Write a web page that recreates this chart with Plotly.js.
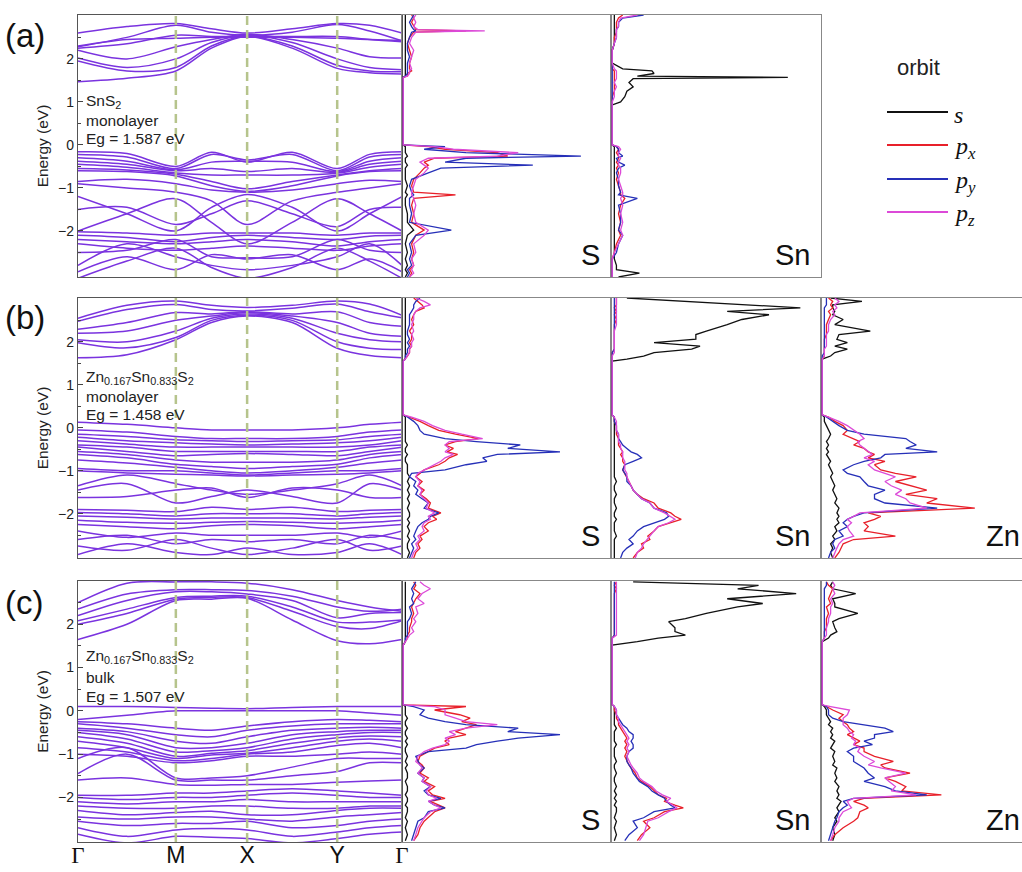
<!DOCTYPE html>
<html>
<head>
<meta charset="utf-8">
<script src="https://cdn.plot.ly/plotly-3.0.1.min.js"></script>
<style>html,body{margin:0;padding:0;background:#fff;}#chart{width:1022px;height:872px;}</style>
</head>
<body>
<div id="chart"></div>
<script>
// ---------------- DATA ----------------
const kLabels = ['Γ', 'M', 'X', 'Y', 'Γ'];
const kNodes = [0, 0.302, 0.522, 0.80, 1.0];
const kPath = [0, 0.151, 0.302, 0.412, 0.522, 0.661, 0.80, 0.90, 1.0];

const panelTags = ['(a)', '(b)', '(c)'];
const materialA = ['SnS<sub>2</sub>', 'monolayer', 'Eg = 1.587 eV'];
const materialB = ['Zn<sub>0.167</sub>Sn<sub>0.833</sub>S<sub>2</sub>', 'monolayer', 'Eg = 1.458 eV'];
const materialC = ['Zn<sub>0.167</sub>Sn<sub>0.833</sub>S<sub>2</sub>', 'bulk', 'Eg = 1.507 eV'];
const elementsA = ['S', 'Sn'];
const elementsBC = ['S', 'Sn', 'Zn'];
const orbitNames = ['<i>s</i>', '<i>p</i><sub><i>x</i></sub>', '<i>p</i><sub><i>y</i></sub>', '<i>p</i><sub><i>z</i></sub>'];
const legendTitle = 'orbit';
const energyTicks = [-2, -1, 0, 1, 2];

// band energies (eV) at kPath points
const bandsA_cb = [
 [1.47, 1.55, 1.72, 2.25, 2.52, 2.25, 1.78, 1.68, 1.65],
 [1.95, 1.72, 1.80, 2.30, 2.53, 2.30, 1.85, 1.72, 1.70],
 [2.02, 1.80, 2.00, 2.38, 2.55, 2.38, 2.00, 1.80, 1.75],
 [2.20, 2.00, 2.28, 2.45, 2.57, 2.45, 2.25, 2.05, 2.02],
 [2.25, 2.35, 2.55, 2.52, 2.52, 2.52, 2.52, 2.45, 2.40],
 [2.28, 2.50, 2.78, 2.62, 2.55, 2.62, 2.80, 2.65, 2.42],
 [2.60, 2.75, 2.82, 2.70, 2.60, 2.70, 2.82, 2.78, 2.60],
 [2.30, 2.45, 2.48, 2.50, 2.50, 2.50, 2.48, 2.45, 2.43]
];
const bandsA_vb = [
 [-0.16, -0.20, -0.50, -0.17, -0.40, -0.17, -0.55, -0.22, -0.16],
 [-0.22, -0.28, -0.55, -0.22, -0.35, -0.22, -0.60, -0.28, -0.22],
 [-0.30, -0.38, -0.58, -0.40, -0.38, -0.40, -0.62, -0.38, -0.30],
 [-0.38, -0.45, -0.60, -0.55, -0.62, -0.55, -0.64, -0.45, -0.38],
 [-0.45, -0.52, -0.65, -0.70, -0.70, -0.70, -0.66, -0.52, -0.45],
 [-0.55, -0.58, -0.68, -0.85, -1.02, -0.85, -0.70, -0.60, -0.55],
 [-0.60, -0.62, -0.72, -0.95, -1.08, -0.95, -0.72, -0.62, -0.60],
 [-0.85, -0.80, -0.90, -1.05, -1.10, -1.05, -0.90, -0.82, -0.85],
 [-0.90, -1.00, -1.10, -1.30, -1.85, -1.30, -1.10, -1.00, -0.90],
 [-1.20, -1.60, -2.00, -1.45, -1.15, -1.45, -2.00, -1.60, -1.20],
 [-1.50, -1.45, -1.85, -1.60, -1.30, -1.60, -1.90, -1.50, -1.45],
 [-2.00, -1.60, -1.25, -1.80, -2.30, -1.80, -1.25, -1.60, -2.00],
 [-2.02, -2.05, -2.10, -2.05, -2.05, -2.05, -2.10, -2.05, -2.05],
 [-2.10, -2.15, -2.25, -2.15, -2.10, -2.15, -2.20, -2.12, -2.10],
 [-2.20, -2.25, -2.30, -2.25, -2.20, -2.25, -2.35, -2.25, -2.20],
 [-2.30, -2.40, -2.45, -2.40, -2.35, -2.40, -2.45, -2.35, -2.30],
 [-2.50, -2.45, -2.20, -2.60, -2.62, -2.60, -2.20, -2.45, -2.50],
 [-2.80, -2.30, -2.60, -2.80, -2.90, -2.80, -2.60, -2.30, -2.80],
 [-2.95, -2.60, -2.90, -2.55, -2.65, -2.55, -2.90, -2.65, -2.95],
 [-3.10, -2.70, -2.40, -2.85, -3.10, -2.85, -2.40, -2.70, -3.10]
];
const bandsB_cb = [
 [1.63, 1.70, 2.05, 2.45, 2.60, 2.45, 1.85, 1.68, 1.63],
 [1.98, 1.86, 2.10, 2.50, 2.62, 2.50, 2.00, 1.85, 1.82],
 [2.05, 2.00, 2.25, 2.55, 2.65, 2.55, 2.20, 2.05, 2.00],
 [2.20, 2.25, 2.50, 2.60, 2.68, 2.60, 2.45, 2.20, 2.13],
 [2.29, 2.45, 2.68, 2.65, 2.70, 2.65, 2.70, 2.45, 2.36],
 [2.48, 2.75, 2.87, 2.75, 2.72, 2.78, 2.88, 2.70, 2.56],
 [2.55, 2.85, 2.95, 2.85, 2.80, 2.85, 2.95, 2.88, 2.62]
];
const bandsB_vb = [
 [0.13, 0.08, 0.00, -0.05, -0.05, -0.05, 0.00, 0.08, 0.13],
 [-0.05, -0.10, -0.20, -0.25, -0.25, -0.25, -0.20, -0.10, -0.05],
 [-0.15, -0.20, -0.28, -0.30, -0.32, -0.30, -0.28, -0.20, -0.15],
 [-0.22, -0.30, -0.35, -0.38, -0.40, -0.38, -0.35, -0.30, -0.22],
 [-0.30, -0.38, -0.45, -0.45, -0.45, -0.45, -0.45, -0.40, -0.30],
 [-0.40, -0.45, -0.55, -0.55, -0.55, -0.55, -0.55, -0.45, -0.40],
 [-0.45, -0.55, -0.65, -0.62, -0.60, -0.62, -0.65, -0.55, -0.45],
 [-0.55, -0.62, -0.75, -0.80, -0.80, -0.80, -0.75, -0.62, -0.55],
 [-0.62, -0.70, -0.85, -0.90, -0.95, -0.90, -0.85, -0.70, -0.62],
 [-0.75, -0.82, -0.92, -1.00, -1.05, -1.00, -0.92, -0.82, -0.75],
 [-0.95, -1.00, -1.00, -1.05, -1.10, -1.05, -1.00, -1.00, -0.95],
 [-1.00, -1.05, -1.08, -1.10, -1.12, -1.10, -1.08, -1.05, -1.00],
 [-1.35, -1.10, -1.30, -1.45, -1.55, -1.45, -1.30, -1.10, -1.35],
 [-1.62, -1.60, -1.45, -1.40, -1.62, -1.40, -1.45, -1.62, -1.62],
 [-1.45, -1.30, -1.75, -1.60, -1.45, -1.60, -1.75, -1.30, -1.45],
 [-1.90, -1.92, -1.95, -1.85, -1.90, -1.85, -1.95, -1.92, -1.90],
 [-1.97, -2.00, -2.05, -2.00, -2.00, -2.00, -2.05, -2.00, -1.97],
 [-2.05, -2.08, -2.12, -2.10, -2.10, -2.10, -2.12, -2.08, -2.05],
 [-2.15, -2.20, -2.22, -2.20, -2.18, -2.20, -2.22, -2.20, -2.15],
 [-2.25, -2.30, -2.35, -2.28, -2.25, -2.28, -2.35, -2.30, -2.25],
 [-2.40, -2.55, -2.45, -2.50, -2.50, -2.50, -2.45, -2.55, -2.40],
 [-2.60, -2.50, -2.70, -2.60, -2.65, -2.60, -2.70, -2.50, -2.60],
 [-2.75, -2.85, -2.60, -2.80, -2.95, -2.80, -2.60, -2.85, -2.75],
 [-2.95, -2.70, -2.90, -2.95, -2.80, -2.95, -2.90, -2.70, -2.95]
];
const bandsC_cb = [
 [1.65, 2.00, 2.55, 2.58, 2.60, 2.10, 1.62, 1.55, 1.65],
 [2.00, 2.25, 2.58, 2.62, 2.62, 2.30, 1.95, 1.90, 2.08],
 [2.08, 2.35, 2.62, 2.65, 2.65, 2.40, 2.05, 2.05, 2.10],
 [2.20, 2.55, 2.75, 2.75, 2.70, 2.55, 2.15, 2.25, 2.27],
 [2.35, 2.70, 2.80, 2.80, 2.78, 2.65, 2.40, 2.30, 2.35],
 [2.50, 2.95, 2.98, 2.98, 2.95, 2.80, 2.55, 2.40, 2.30]
];
const bandsC_vb = [
 [0.10, 0.10, 0.08, 0.06, 0.05, 0.08, 0.10, 0.10, 0.10],
 [-0.20, -0.10, 0.00, 0.00, 0.00, 0.00, 0.00, -0.05, -0.10],
 [-0.25, -0.30, -0.40, -0.45, -0.35, -0.25, -0.20, -0.22, -0.25],
 [-0.30, -0.40, -0.55, -0.60, -0.45, -0.35, -0.30, -0.30, -0.30],
 [-0.40, -0.48, -0.70, -0.75, -0.60, -0.45, -0.40, -0.38, -0.40],
 [-0.45, -0.55, -0.85, -0.85, -0.75, -0.55, -0.48, -0.45, -0.45],
 [-0.50, -0.65, -0.95, -0.92, -0.85, -0.65, -0.55, -0.50, -0.50],
 [-0.60, -0.75, -1.05, -0.98, -0.92, -0.75, -0.62, -0.58, -0.60],
 [-0.70, -0.85, -1.10, -1.02, -0.98, -0.85, -0.70, -0.65, -0.70],
 [-0.85, -0.95, -1.15, -1.10, -1.00, -0.95, -0.80, -0.75, -0.85],
 [-1.00, -1.05, -1.20, -1.15, -1.05, -1.05, -1.00, -0.95, -1.00],
 [-1.10, -0.85, -1.55, -1.55, -1.50, -1.30, -1.10, -1.10, -1.10],
 [-1.45, -1.00, -1.60, -1.60, -1.60, -1.50, -1.40, -1.20, -1.20],
 [-1.60, -1.55, -1.70, -1.72, -1.70, -1.70, -1.65, -1.62, -1.60],
 [-1.95, -1.95, -1.90, -1.90, -1.85, -1.80, -1.85, -1.90, -1.95],
 [-2.00, -2.05, -2.00, -2.00, -1.95, -1.90, -1.95, -2.00, -2.00],
 [-2.10, -2.15, -2.10, -2.10, -2.05, -2.10, -2.10, -2.10, -2.10],
 [-2.20, -2.25, -2.25, -2.20, -2.20, -2.25, -2.25, -2.20, -2.20],
 [-2.30, -2.40, -2.35, -2.32, -2.40, -2.40, -2.30, -2.25, -2.25],
 [-2.45, -2.50, -2.45, -2.45, -2.50, -2.55, -2.45, -2.40, -2.35],
 [-2.55, -2.65, -2.60, -2.60, -2.55, -2.70, -2.65, -2.55, -2.50],
 [-2.70, -2.90, -2.75, -2.72, -2.75, -2.90, -2.80, -2.70, -2.65],
 [-2.85, -3.05, -2.90, -2.92, -2.95, -3.05, -2.95, -2.85, -2.80]
];

// DOS energy grids (eV)
const energyA = [3.02, 2.95, 2.85, 2.75, 2.68, 2.65, 2.62, 2.5, 2.36, 2.2, 2.05, 1.9, 1.77, 1.72, 1.66, 1.6, 1.57, 1.54, 1.45, 1.35, 1.25, 1.12, 1.0, 0.93, 0.0,
 -0.04, -0.1, -0.18, -0.26, -0.31, -0.4, -0.47, -0.54, -0.65, -0.8, -0.95, -1.1, -1.16, -1.24, -1.4, -1.6, -1.8, -1.98, -2.1, -2.3, -2.5, -2.65, -2.8, -2.9, -2.98, -3.07];
const energyB = [3.02, 2.94, 2.86, 2.79, 2.71, 2.63, 2.52, 2.40, 2.25, 2.17, 2.06, 1.98, 1.9, 1.83, 1.75, 1.67, 1.6, 1.55, 0.3,
 0.25, 0.15, 0.05, -0.06, -0.15, -0.25, -0.32, -0.4, -0.48, -0.56, -0.62, -0.7, -0.78, -0.86, -0.98, -1.06, -1.14, -1.25, -1.35, -1.45, -1.55, -1.65, -1.75, -1.87, -1.98, -2.06, -2.13, -2.21, -2.3, -2.4, -2.52, -2.6, -2.7, -2.8, -2.9, -3.03];
const energyC = [2.98, 2.9, 2.82, 2.71, 2.59, 2.48, 2.4, 2.25, 2.13, 2.06, 1.92, 1.83, 1.75, 1.68, 1.6, 1.52, 0.14,
 0.1, 0.02, -0.09, -0.17, -0.25, -0.32, -0.4, -0.48, -0.55, -0.63, -0.7, -0.78, -0.86, -0.94, -1.05, -1.17, -1.25, -1.32, -1.44, -1.55, -1.63, -1.75, -1.85, -1.94, -2.02, -2.09, -2.18, -2.24, -2.33, -2.47, -2.55, -2.7, -2.86, -3.0];

// projected DOS (arbitrary units, 1 = panel width), order: s, px, py, pz
const dosA_S = [
 [0.01,0.01,0.01,0.01,0.01,0.01,0.01,0.01,0.01,0.01,0.01,0.01,0.01,0.01,0.01,0.01, 0,0,0,0,0,0,0,0,0,
  0.01,0.01,0.01,0.02,0.01,0.01,0.02,0.01,0.01,0.01,0.02,0.01,0.02,0.01,0.01,0.02,0.02,0.05,0.02,0.01,0.02,0.01,0.02,0.01,0.02,0.01],
 [0.04,0.05,0.04,0.05,0.06,0.3,0.05,0.03,0.02,0.03,0.04,0.03,0.03,0.04,0.02,0.02, 0,0,0,0,0,0,0,0,0,
  0.12,0.2,0.45,0.5,0.15,0.1,0.12,0.1,0.08,0.05,0.04,0.05,0.25,0.05,0.04,0.05,0.04,0.1,0.06,0.04,0.05,0.04,0.05,0.03,0.04,0.03],
 [0.05,0.04,0.03,0.04,0.05,0.06,0.04,0.03,0.02,0.02,0.03,0.02,0.02,0.02,0.02,0.01, 0,0,0,0,0,0,0,0,0,
  0.2,0.1,0.3,0.85,0.3,0.2,0.62,0.18,0.12,0.04,0.03,0.04,0.05,0.03,0.03,0.04,0.03,0.23,0.06,0.03,0.04,0.03,0.04,0.02,0.03,0.02],
 [0.06,0.05,0.06,0.05,0.07,0.39,0.06,0.04,0.03,0.05,0.04,0.03,0.04,0.03,0.03,0.02, 0,0,0,0,0,0,0,0,0,
  0.15,0.24,0.55,0.45,0.12,0.08,0.1,0.12,0.1,0.06,0.05,0.04,0.04,0.05,0.06,0.05,0.06,0.12,0.1,0.05,0.06,0.04,0.05,0.04,0.05,0.03]
];
const dosA_Sn = [
 [0.01,0.01,0.01,0.01,0.01,0.01,0.01,0.01,0.01, 0,0,0, 0.05,0.19,0.2,0.12,0.84,0.1,0.08,0.1,0.07,0.06,0.04, 0,0,
  0.01,0.01,0.01,0.01,0.01,0.01,0.01,0.01,0.01,0.01,0.01,0.01,0.01,0.01,0.01,0.01,0.01,0.01,0.01,0.01,0.01,0.01,0.02,0.02,0.13,0.03],
 [0.05,0.03,0.02,0.02,0.02,0.02,0.02,0.01,0.01, 0,0,0, 0,0.01,0.01,0.01,0.01,0.01,0.01,0.01,0.01,0,0, 0,0,
  0.02,0.03,0.02,0.03,0.03,0.02,0.03,0.02,0.03,0.02,0.03,0.04,0.04,0.06,0.04,0.03,0.04,0.03,0.04,0.02,0.01,0,0,0,0,0],
 [0.15,0.05,0.03,0.03,0.02,0.02,0.02,0.02,0.01, 0,0,0, 0,0,0,0,0,0,0,0,0,0,0, 0,0,
  0.02,0.03,0.03,0.05,0.02,0.03,0.06,0.03,0.02,0.03,0.03,0.04,0.03,0.12,0.03,0.04,0.04,0.03,0.05,0.03,0.02,0,0,0,0,0],
 [0.12,0.04,0.03,0.03,0.02,0.02,0.02,0.02,0.01, 0,0,0, 0.01,0.02,0.02,0.02,0.02,0.02,0.01,0.02,0.01,0.01,0, 0,0,
  0.03,0.04,0.03,0.03,0.04,0.03,0.03,0.04,0.04,0.03,0.04,0.05,0.05,0.04,0.05,0.04,0.05,0.04,0.05,0.03,0.01,0,0,0,0,0]
];
const dosB_S = [
 [0.01,0.01,0.01,0.01,0.01,0.01,0.01,0.01,0.01,0.01,0.01,0.01,0.01,0.01,0.01,0.01,0.01, 0,0,
  0.01,0.01,0.01,0.01,0.01,0.01,0.01,0.02,0.01,0.01,0.02,0.01,0.01,0.02,0.02,0.02,0.03,0.02,0.03,0.02,0.03,0.02,0.03,0.02,0.03,0.03,0.02,0.03,0.02,0.03,0.02,0.03,0.02,0.02,0.03,0.02],
 [0.05,0.07,0.09,0.1,0.06,0.05,0.04,0.05,0.03,0.04,0.04,0.03,0.04,0.03,0.03,0.02,0.01, 0,0,
  0.03,0.08,0.12,0.17,0.25,0.36,0.25,0.2,0.24,0.21,0.26,0.22,0.2,0.17,0.1,0.08,0.06,0.09,0.07,0.1,0.08,0.11,0.13,0.12,0.18,0.14,0.16,0.12,0.1,0.12,0.08,0.09,0.07,0.08,0.06,0.05],
 [0.08,0.06,0.05,0.05,0.04,0.03,0.03,0.03,0.02,0.02,0.03,0.02,0.03,0.02,0.02,0.01,0.01, 0,0,
  0.02,0.05,0.07,0.08,0.1,0.2,0.35,0.56,0.5,0.75,0.45,0.38,0.4,0.3,0.2,0.04,0.03,0.06,0.05,0.07,0.06,0.09,0.12,0.1,0.17,0.13,0.12,0.09,0.07,0.06,0.05,0.06,0.04,0.05,0.04,0.03],
 [0.06,0.1,0.13,0.08,0.06,0.05,0.05,0.04,0.05,0.04,0.05,0.04,0.04,0.03,0.03,0.02,0.01, 0,0,
  0.04,0.1,0.14,0.2,0.28,0.38,0.22,0.2,0.22,0.2,0.24,0.2,0.18,0.15,0.1,0.07,0.06,0.08,0.07,0.09,0.08,0.1,0.12,0.11,0.15,0.12,0.13,0.1,0.09,0.1,0.07,0.08,0.06,0.07,0.05,0.04]
];
const dosB_Sn = [
 [0.07,0.35,0.6,0.9,0.55,0.75,0.62,0.55,0.45,0.4,0.4,0.2,0.42,0.38,0.2,0.15,0.07, 0,0,
  0.01,0.01,0.01,0.01,0.01,0.01,0.01,0.01,0.01,0.01,0.01,0.01,0.01,0.01,0.01,0.01,0.01,0.02,0.01,0.01,0.02,0.01,0.01,0.02,0.01,0.01,0.02,0.01,0.01,0.01,0.02,0.01,0.01,0.01,0.01,0.01],
 [0.02,0.02,0.02,0.01,0.02,0.01,0.02,0.01,0.01,0.01,0.01,0.01,0.01,0.01,0,0,0, 0,0,
  0.01,0.01,0.02,0.02,0.02,0.03,0.03,0.03,0.04,0.05,0.04,0.05,0.05,0.06,0.05,0.06,0.07,0.08,0.09,0.1,0.12,0.15,0.2,0.22,0.28,0.3,0.33,0.28,0.22,0.2,0.17,0.18,0.14,0.15,0.12,0.1],
 [0.01,0.01,0.01,0.01,0.01,0.01,0.01,0.01,0.01,0.01,0.01,0.01,0.01,0.01,0,0,0, 0,0,
  0.01,0.01,0.02,0.02,0.03,0.03,0.04,0.05,0.07,0.09,0.12,0.14,0.1,0.06,0.05,0.06,0.07,0.07,0.09,0.1,0.12,0.14,0.18,0.2,0.26,0.27,0.25,0.2,0.15,0.12,0.1,0.08,0.1,0.07,0.05,0.04],
 [0.02,0.02,0.02,0.02,0.02,0.02,0.02,0.02,0.01,0.01,0.01,0.01,0.01,0.01,0.01,0,0, 0,0,
  0.01,0.02,0.02,0.02,0.03,0.03,0.03,0.04,0.04,0.05,0.05,0.05,0.06,0.06,0.06,0.07,0.07,0.08,0.09,0.1,0.12,0.14,0.18,0.2,0.25,0.28,0.3,0.27,0.22,0.2,0.18,0.17,0.15,0.14,0.12,0.11]
];
const dosB_Zn = [
 [0.04,0.19,0.05,0.05,0.06,0.05,0.1,0.06,0.23,0.08,0.07,0.12,0.06,0.12,0.06,0.04,0, 0,0,
  0.01,0.01,0.02,0.03,0.04,0.03,0.02,0.03,0.02,0.03,0.02,0.03,0.04,0.03,0.04,0.05,0.04,0.05,0.06,0.05,0.06,0.07,0.06,0.08,0.07,0.08,0.07,0.08,0.06,0.07,0.05,0.06,0.04,0.05,0.04,0.05],
 [0.03,0.05,0.04,0.05,0.03,0.04,0.03,0.02,0.02,0.02,0.01,0.01,0.01,0.01,0.01,0.01,0, 0,0,
  0.03,0.06,0.1,0.12,0.1,0.15,0.18,0.15,0.2,0.22,0.25,0.22,0.3,0.25,0.28,0.35,0.45,0.35,0.42,0.5,0.4,0.55,0.5,0.73,0.22,0.28,0.25,0.2,0.22,0.2,0.35,0.15,0.1,0.09,0.08,0.06],
 [0.02,0.02,0.02,0.01,0.01,0.01,0.01,0.01,0.01,0.01,0.01,0.01,0.01,0.01,0.01,0,0, 0,0,
  0.02,0.05,0.08,0.12,0.2,0.4,0.42,0.45,0.4,0.55,0.3,0.28,0.2,0.15,0.1,0.12,0.18,0.2,0.22,0.3,0.25,0.25,0.3,0.55,0.2,0.15,0.12,0.1,0.12,0.08,0.1,0.06,0.05,0.06,0.04,0.03],
 [0.06,0.08,0.06,0.07,0.05,0.06,0.04,0.03,0.03,0.02,0.02,0.02,0.02,0.01,0.01,0.01,0, 0,0,
  0.03,0.08,0.12,0.15,0.18,0.2,0.17,0.18,0.2,0.22,0.24,0.2,0.25,0.22,0.25,0.3,0.35,0.3,0.33,0.38,0.35,0.4,0.42,0.5,0.18,0.15,0.12,0.14,0.12,0.13,0.15,0.1,0.08,0.07,0.06,0.05]
];
const dosC_S = [
 [0.01,0.01,0.01,0.01,0.01,0.01,0.01,0.01,0.01,0.01,0.01,0.01,0.01,0.01,0.01, 0,0,
  0.01,0.01,0.01,0.02,0.01,0.01,0.02,0.01,0.01,0.02,0.01,0.02,0.01,0.01,0.02,0.01,0.02,0.01,0.02,0.02,0.01,0.02,0.02,0.01,0.02,0.02,0.01,0.02,0.02,0.01,0.02,0.01,0.02,0.01],
 [0.05,0.06,0.05,0.08,0.06,0.05,0.04,0.05,0.04,0.04,0.03,0.03,0.02,0.02,0.01, 0,0,
  0.3,0.15,0.27,0.32,0.28,0.35,0.3,0.25,0.3,0.22,0.2,0.22,0.15,0.12,0.08,0.07,0.09,0.1,0.08,0.12,0.1,0.15,0.12,0.14,0.2,0.13,0.17,0.2,0.15,0.12,0.1,0.08,0.07,0.05],
 [0.06,0.05,0.04,0.05,0.04,0.05,0.03,0.04,0.03,0.02,0.02,0.02,0.02,0.01,0.01, 0,0,
  0.05,0.1,0.08,0.12,0.2,0.3,0.55,0.5,0.75,0.55,0.45,0.35,0.3,0.12,0.06,0.07,0.08,0.1,0.07,0.1,0.09,0.13,0.1,0.12,0.18,0.12,0.15,0.2,0.12,0.1,0.07,0.06,0.05,0.04],
 [0.08,0.1,0.13,0.09,0.07,0.1,0.06,0.07,0.05,0.06,0.04,0.05,0.03,0.02,0.01, 0,0,
  0.15,0.2,0.2,0.25,0.3,0.45,0.3,0.22,0.25,0.2,0.22,0.2,0.14,0.1,0.07,0.06,0.08,0.09,0.07,0.1,0.09,0.13,0.11,0.12,0.16,0.12,0.15,0.18,0.13,0.1,0.09,0.07,0.06,0.05]
];
const dosC_Sn = [
 [0.1,0.7,0.6,0.88,0.55,0.72,0.6,0.45,0.35,0.27,0.3,0.3,0.35,0.22,0.12, 0,0,
  0.01,0.01,0.01,0.01,0.01,0.01,0.02,0.01,0.01,0.01,0.01,0.02,0.01,0.01,0.01,0.02,0.01,0.01,0.02,0.01,0.01,0.02,0.01,0.02,0.01,0.02,0.01,0.02,0.02,0.01,0.02,0.01,0.02,0.01],
 [0.02,0.01,0.02,0.01,0.01,0.01,0.01,0.01,0.01,0.01,0.01,0.01,0.01,0,0, 0,0,
  0.01,0.01,0.02,0.02,0.03,0.03,0.04,0.05,0.06,0.07,0.06,0.07,0.06,0.07,0.06,0.07,0.08,0.09,0.11,0.12,0.14,0.18,0.2,0.22,0.26,0.25,0.3,0.34,0.25,0.2,0.15,0.18,0.14,0.12],
 [0.01,0.01,0.01,0.01,0.01,0.01,0.01,0.01,0.01,0.01,0.01,0.01,0.01,0,0, 0,0,
  0.01,0.02,0.02,0.03,0.04,0.05,0.07,0.08,0.1,0.1,0.09,0.1,0.1,0.08,0.07,0.07,0.08,0.09,0.1,0.12,0.13,0.17,0.19,0.22,0.25,0.26,0.28,0.3,0.2,0.15,0.1,0.12,0.08,0.06],
 [0.02,0.02,0.02,0.02,0.02,0.02,0.02,0.02,0.02,0.02,0.02,0.02,0.02,0,0, 0,0,
  0.01,0.02,0.02,0.03,0.03,0.04,0.05,0.06,0.07,0.08,0.07,0.08,0.07,0.08,0.07,0.08,0.09,0.1,0.12,0.13,0.15,0.19,0.21,0.24,0.28,0.26,0.29,0.31,0.27,0.22,0.17,0.16,0.15,0.13]
];
const dosC_Zn = [
 [0.05,0.04,0.05,0.16,0.05,0.06,0.06,0.17,0.08,0.05,0.06,0.07,0.04,0.03,0, 0,0,
  0.01,0.02,0.02,0.03,0.04,0.03,0.05,0.04,0.05,0.04,0.06,0.05,0.04,0.06,0.05,0.06,0.05,0.07,0.06,0.07,0.06,0.08,0.07,0.08,0.07,0.09,0.08,0.07,0.08,0.06,0.07,0.05,0.06,0.05],
 [0.02,0.03,0.05,0.04,0.03,0.04,0.02,0.03,0.02,0.02,0.02,0.01,0.01,0.01,0, 0,0,
  0.02,0.05,0.1,0.08,0.1,0.12,0.13,0.15,0.12,0.15,0.18,0.15,0.2,0.2,0.25,0.34,0.28,0.3,0.42,0.3,0.35,0.4,0.38,0.57,0.2,0.15,0.2,0.22,0.18,0.17,0.15,0.1,0.06,0.04],
 [0.02,0.02,0.01,0.01,0.01,0.01,0.01,0.01,0.01,0.01,0.01,0.01,0.01,0.01,0, 0,0,
  0.02,0.03,0.03,0.05,0.1,0.2,0.3,0.34,0.25,0.25,0.2,0.24,0.15,0.12,0.15,0.15,0.18,0.2,0.22,0.25,0.2,0.3,0.35,0.5,0.15,0.1,0.12,0.1,0.08,0.07,0.06,0.05,0.04,0.03],
 [0.05,0.06,0.05,0.06,0.04,0.05,0.04,0.04,0.03,0.03,0.02,0.02,0.02,0.01,0, 0,0,
  0.04,0.13,0.12,0.1,0.1,0.1,0.12,0.13,0.15,0.14,0.16,0.15,0.18,0.17,0.2,0.25,0.22,0.28,0.4,0.3,0.32,0.35,0.33,0.45,0.15,0.12,0.13,0.14,0.1,0.08,0.08,0.06,0.05,0.04]
];

// ---------------- STYLE / LAYOUT ----------------
const W = 1022, H = 872;
const fx = p => p / W;
const fy = p => 1 - p / H;
const FONT = 'Liberation Sans, Arial, sans-serif';
const bandColor = '#7a33df';
const orbitColors = ['#111111', '#e8202a', '#2630b8', '#dc4ad8'];

const rows = [
  {top: 15, bottom: 277, yr: [-3.07, 3.02], cb: bandsA_cb, vb: bandsA_vb, E: energyA, dos: [dosA_S, dosA_Sn], el: elementsA, mat: materialA, matY: [101, 120, 139], tagY: 36},
  {top: 298, bottom: 558, yr: [-3.03, 3.02], cb: bandsB_cb, vb: bandsB_vb, E: energyB, dos: [dosB_S, dosB_Sn, dosB_Zn], el: elementsBC, mat: materialB, matY: [377, 396, 414], tagY: 317},
  {top: 581, bottom: 842, yr: [-3.03, 3.0], cb: bandsC_cb, vb: bandsC_vb, E: energyC, dos: [dosC_S, dosC_Sn, dosC_Zn], el: elementsBC, mat: materialC, matY: [656, 677, 696], tagY: 602}
];
const colEdges = [[78, 402], [402, 611], [611, 821], [821, 1022]];

const traces = [];
const layout = {
  width: W, height: H,
  margin: {l: 0, r: 0, t: 0, b: 0},
  paper_bgcolor: '#fff', plot_bgcolor: '#fff',
  showlegend: false,
  font: {family: FONT, color: '#222'},
  shapes: [], annotations: []
};

let axN = 0;
rows.forEach((row, ri) => {
  const yDom = [fy(row.bottom), fy(row.top)];
  axN += 1;
  const bx = 'x' + (axN === 1 ? '' : axN), by = 'y' + (axN === 1 ? '' : axN);
  const bxKey = 'xaxis' + (axN === 1 ? '' : axN), byKey = 'yaxis' + (axN === 1 ? '' : axN);
  const isLast = ri === rows.length - 1;
  layout[bxKey] = {
    domain: [fx(colEdges[0][0]), fx(colEdges[0][1])], anchor: by, range: [0, 1],
    showline: true, mirror: true, linecolor: '#555', linewidth: 1.2,
    showgrid: false, zeroline: false, ticks: '', fixedrange: true,
    showticklabels: isLast, tickmode: 'array', tickvals: kNodes,
    ticktext: kLabels.map(t => t === 'Γ' ? '<span style="font-family:Liberation Serif, serif">' + t + '</span>' : t),
    tickfont: {size: 23, family: FONT, color: '#111'},
    ticklabelstandoff: -8
  };
  layout[byKey] = {
    domain: yDom, anchor: bx, range: row.yr,
    showline: true, mirror: true, linecolor: '#555', linewidth: 1.2,
    showgrid: false, zeroline: false, fixedrange: true,
    ticks: 'inside', ticklen: 5, tickcolor: '#444', tickmode: 'array', tickvals: energyTicks,
    minor: {ticks: 'inside', ticklen: 3, tickcolor: '#444', tickmode: 'array', tickvals: [-2.5, -1.5, -0.5, 0.5, 1.5, 2.5]},
    tickfont: {size: 14, family: FONT, color: '#222'},
    title: {text: 'Energy (eV)', font: {size: 15.5, family: FONT, color: '#222'}, standoff: 5}
  };
  row.cb.concat(row.vb).forEach(b => traces.push({
    type: 'scatter', mode: 'lines', x: kPath, y: b, xaxis: bx, yaxis: by,
    line: {color: bandColor, width: 1.5, shape: 'spline', smoothing: 0.9}, hoverinfo: 'skip'
  }));
  kNodes.slice(1, 4).forEach(k => layout.shapes.push({
    type: 'line', xref: bx, yref: by + ' domain', x0: k, x1: k, y0: 0, y1: 1,
    line: {color: '#b6c48c', width: 2.5, dash: '9px,5px'}, layer: 'above'
  }));
  row.mat.forEach((t, i) => layout.annotations.push({
    xref: 'paper', yref: 'paper', x: fx(84), y: fy(row.matY[i]), xanchor: 'left', yanchor: 'middle',
    text: t, showarrow: false, font: {size: 15.5, family: FONT, color: '#222'}
  }));
  layout.annotations.push({
    xref: 'paper', yref: 'paper', x: fx(3), y: fy(row.tagY), xanchor: 'left', yanchor: 'middle',
    text: panelTags[ri], showarrow: false, font: {size: 33, family: FONT, color: '#111'}
  });

  row.dos.forEach((dos, di) => {
    axN += 1;
    const dx = 'x' + axN, dy = 'y' + axN;
    const edges = colEdges[di + 1];
    const isZn = row.el[di] === 'Zn';
    const widthUnits = (edges[1] - edges[0]) / 209;
    layout['xaxis' + axN] = {
      domain: [fx(edges[0]), fx(edges[1])], anchor: dy, range: [-0.006, widthUnits - 0.006],
      showline: true, mirror: true, linecolor: '#888', linewidth: 1.2,
      showgrid: false, zeroline: false, ticks: '', showticklabels: false, fixedrange: true
    };
    layout['yaxis' + axN] = {
      domain: yDom, anchor: dx, range: row.yr,
      showline: true, mirror: !isZn, linecolor: '#888', linewidth: 1.2,
      showgrid: false, zeroline: false, ticks: '', showticklabels: false, fixedrange: true
    };
    dos.forEach((vals, oi) => traces.push({
      type: 'scatter', mode: 'lines', x: vals, y: row.E, xaxis: dx, yaxis: dy,
      line: {color: orbitColors[oi], width: 1.3}, hoverinfo: 'skip'
    }));
    layout.annotations.push({
      xref: dx + ' domain', yref: dy + ' domain', x: isZn ? 1.0 : 0.955, y: 0.015,
      xanchor: 'right', yanchor: 'bottom', text: row.el[di], showarrow: false,
      font: {size: 29, family: FONT, color: '#111'}
    });
  });
});

// orbit legend
layout.annotations.push({
  xref: 'paper', yref: 'paper', x: fx(918), y: fy(68), xanchor: 'center', yanchor: 'middle',
  text: legendTitle, showarrow: false, font: {size: 22, family: FONT, color: '#222'}
});
const legY = [112, 145, 179, 212];
orbitNames.forEach((n, i) => {
  layout.shapes.push({
    type: 'line', xref: 'paper', yref: 'paper', x0: fx(887), x1: fx(948), y0: fy(legY[i]), y1: fy(legY[i]),
    line: {color: orbitColors[i], width: 2}
  });
  layout.annotations.push({
    xref: 'paper', yref: 'paper', x: fx(952), y: fy(legY[i] + 3), xanchor: 'left', yanchor: 'middle',
    text: n, showarrow: false, font: {size: 24, family: 'Liberation Serif, DejaVu Serif, serif', color: '#111'}
  });
});

Plotly.newPlot('chart', traces, layout, {staticPlot: true, displayModeBar: false});
</script>
</body>
</html>
